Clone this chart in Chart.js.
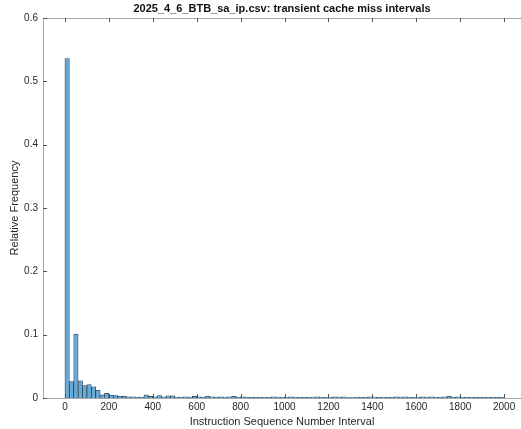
<!DOCTYPE html>
<html>
<head>
<meta charset="utf-8">
<title>transient cache miss intervals</title>
<script src="https://cdn.jsdelivr.net/npm/chart.js@4.4.1/dist/chart.umd.min.js"></script>
<style>
  body { margin: 0; background: #fff; }
  canvas { display: block; }
</style>
</head>
<body>
<canvas id="hist-area" width="521" height="429"></canvas>
<script>
// histogram bins: 20-wide, starting at 0
var binStart = 0;
var binWidth = 20;
var relFreq = [
  0.536, 0.026, 0.101, 0.027, 0.0195, 0.021, 0.0175, 0.012, 0.005, 0.0075,
  0.0045, 0.004, 0.003, 0.0025, 0.002, 0.002, 0.0015, 0.0015, 0.005, 0.0025,
  0.002, 0.004, 0.002, 0.0035, 0.0035, 0.0015, 0.0015, 0.002, 0.0015, 0.0025,
  0.002, 0.0015, 0.003, 0.002, 0.0015, 0.002, 0.0015, 0.002, 0.0025, 0.0015,
  0.002, 0.0015, 0.001, 0.0015, 0.001, 0.0015, 0.001, 0.002, 0.0015, 0.001,
  0.0015, 0.002, 0.0015, 0.001, 0.0015, 0.001, 0.0015, 0.002, 0.0015, 0.001,
  0.0015, 0.002, 0.0015, 0.002, 0.0005, 0.0005, 0.0015, 0.001, 0.0015, 0.002,
  0.0015, 0.001, 0.0015, 0.001, 0.0015, 0.002, 0.0015, 0.002, 0.0015, 0.001,
  0.0015, 0.002, 0.0015, 0.002, 0.0015, 0.0015, 0.002, 0.0025, 0.0015, 0.002,
  0.001, 0.0015, 0.0015, 0.001, 0.001, 0.0015, 0.001, 0.0015, 0.001, 0.0015
];
var xTicks = [0, 200, 400, 600, 800, 1000, 1200, 1400, 1600, 1800, 2000];
var yTicks = [0, 0.1, 0.2, 0.3, 0.4, 0.5, 0.6];

var FONT = "'Liberation Sans', Arial, Helvetica, sans-serif";
var TEXT = '#262626';
var AXIS = '#a6a6a6';

var points = relFreq.map(function(v, i) {
  return { x: binStart + binWidth * i + binWidth / 2, y: v };
});

function fixTicks(values) {
  return function(scale) {
    scale.ticks = values.map(function(v) { return { value: v }; });
  };
}

function plainLabel(v) { return String(v); }

// matlab style ticks pointing into the plot area
var inwardTicks = {
  id: 'inwardTicks',
  afterDraw: function(chart) {
    var ctx = chart.ctx, a = chart.chartArea;
    var x = chart.scales.x, y = chart.scales.y;
    ctx.save();
    ctx.strokeStyle = '#555';
    ctx.lineWidth = 1;
    ctx.beginPath();
    xTicks.forEach(function(v) {
      var px = Math.round(x.getPixelForValue(v)) + 0.5;
      ctx.moveTo(px, a.bottom); ctx.lineTo(px, a.bottom - 4);
      ctx.moveTo(px, a.top); ctx.lineTo(px, a.top + 4);
    });
    yTicks.forEach(function(v) {
      var py = Math.round(y.getPixelForValue(v)) + 0.5;
      ctx.moveTo(a.left, py); ctx.lineTo(a.left + 4, py);
    });
    ctx.stroke();
    ctx.restore();
  }
};

var ctx = document.getElementById('hist-area').getContext('2d');
window.myHist = new Chart(ctx, {
  type: 'bar',
  data: {
    datasets: [{
      data: points,
      backgroundColor: 'rgb(102,170,215)',
      borderColor: 'rgba(20,35,50,0.85)',
      borderWidth: 0.75,
      barPercentage: 1,
      categoryPercentage: 1
    }]
  },
  plugins: [inwardTicks],
  options: {
    responsive: false,
    animation: false,
    layout: { padding: { left: 0, right: 0, top: 0, bottom: 0 } },
    plugins: {
      legend: { display: false },
      tooltip: { enabled: false },
      title: {
        display: true,
        fullSize: false,
        text: '2025_4_6_BTB_sa_ip.csv: transient cache miss intervals',
        color: '#111',
        font: { family: FONT, size: 11, weight: 'bold' },
        padding: { top: 2, bottom: 2.8 }
      }
    },
    scales: {
      x: {
        type: 'linear',
        offset: false,
        min: -100,
        max: 2077,
        afterBuildTicks: fixTicks(xTicks),
        afterFit: function(s) { s.height = 31; },
        grid: { display: false, drawTicks: false },
        border: { color: AXIS, width: 1 },
        ticks: { color: TEXT, font: { family: FONT, size: 10 }, padding: 3, maxRotation: 0, callback: plainLabel },
        title: {
          display: true,
          text: 'Instruction Sequence Number Interval',
          color: TEXT,
          font: { family: FONT, size: 11 },
          padding: { top: -2, bottom: 0 }
        }
      },
      x2: {
        type: 'linear',
        position: 'top',
        offset: false,
        min: -100,
        max: 2077,
        afterFit: function(s) { s.height = 0; },
        grid: { display: false, drawTicks: false },
        border: { color: AXIS, width: 1 },
        ticks: { display: false }
      },
      y: {
        min: 0,
        max: 0.6,
        afterBuildTicks: fixTicks(yTicks),
        afterFit: function(s) { s.width = 43; },
        grid: { display: false, drawTicks: false },
        border: { color: AXIS, width: 1 },
        ticks: { color: TEXT, font: { family: FONT, size: 10 }, padding: 5, callback: plainLabel },
        title: {
          display: true,
          text: 'Relative Frequency',
          color: TEXT,
          font: { family: FONT, size: 11 },
          padding: { top: 8, bottom: 0 }
        }
      }
    }
  }
});
</script>
</body>
</html>
